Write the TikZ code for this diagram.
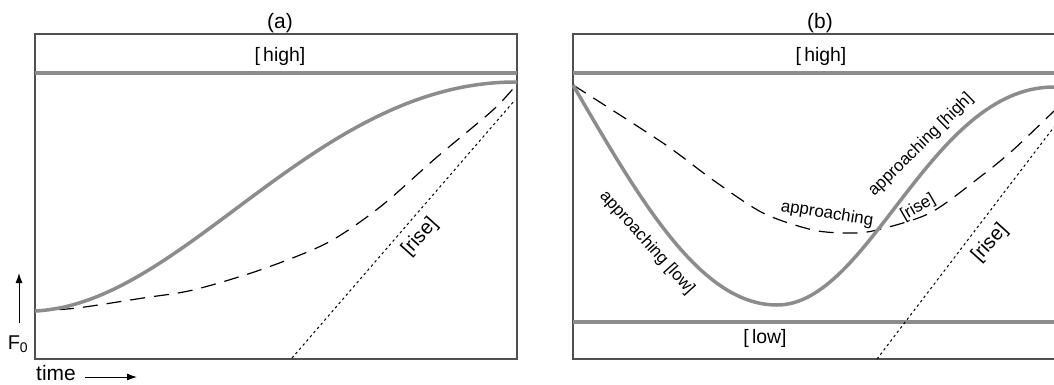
\documentclass[tikz,border=0pt]{standalone}
\usepackage{fontspec}
\setmainfont{Liberation Sans}
\usetikzlibrary{arrows.meta, positioning, calc}
\definecolor{cline}{HTML}{8C8C8C}
\definecolor{cframe}{HTML}{505050}
\tikzset{
  every picture/.style={font=\fontsize{18}{21}\selectfont},
  frame/.style={draw=cframe, line width=1.3bp},
  level/.style={draw=cline, line width=4bp},
  contour/.style={draw=cline, line width=3.5bp},
  target/.style={draw=black, line width=1.2bp, dash pattern=on 15bp off 9bp},
  slope/.style={draw=black, line width=1bp, dash pattern=on 2.5bp off 3bp},
  panel/.style={font=\fontsize{21}{24}\selectfont},
  tone/.style={inner sep=1bp, font=\fontsize{19.5}{22}\selectfont},
  lbl/.style={inner sep=1bp, font=\fontsize{17}{20}\selectfont},
  axis/.style={-{Latex[length=10bp, width=7bp]}, line width=1bp},
}

\begin{document}
\begin{tikzpicture}[x=1bp, y=-1bp]
  \useasboundingbox (0,0) rectangle (1054,384);
  % panel (a): rise towards [high]
  \draw[frame] (35,34) rectangle (517,359);
  \draw[level] (35,73) -- (517,73);
  \node[panel] (titlea) at (280,23) {(a)};
  \node[tone] (higha) at (280,56) {[\,high]};
  \draw[slope] (292,358) -- (515,100);
  \draw[target] plot[smooth] coordinates {(35,311) (77,308) (143,298) (193,290) (260,270) (327,243) (380,207) (437,157) (493,110) (517,84)};
  \draw[contour] (35,311) .. controls (185,304) and (315,81) .. (517,82);
  \node[lbl, rotate=48, font=\fontsize{20}{23}\selectfont] (risea) at (420,237) {[rise]};
  % axes
  \coordinate (ylo) at (19,323);
  \coordinate (yhi) at (19,273);
  \draw[axis] (ylo) -- (yhi);
  \node[font=\fontsize{20}{22}\selectfont, inner sep=0pt] (fzero) at (18,344) {F\textsubscript{0}};
  \node[font=\fontsize{21}{24}\selectfont, inner sep=0pt] (time) at (56,373) {time};
  \coordinate (tend) at (137,377);
  \draw[axis] (85,377) -- (tend);
  % panel (b): fall to [low], then rise to [high]
  \draw[frame] (1056,34) -- (573,34) -- (573,359) -- (1056,359);
  \draw[level] (573,73) -- (1054,73);
  \draw[level] (573,322) -- (1054,322);
  \node[panel] (titleb) at (820,23) {(b)};
  \node[tone] (highb) at (821,56) {[\,high]};
  \node[tone] (lowb) at (765,338) {[\,low]};
  \draw[slope] (877,359) -- (1054,127);
  \draw[target] plot[smooth] coordinates {(573,85) (663,143) (713,180) (763,213) (813,230) (850,233) (877,230) (930,213) (980,177) (1013,150) (1054,111)};
  \draw[contour] (573,85) .. controls (640,200) and (700,305) .. (777,305)
                 .. controls (870,305) and (930,87) .. (1054,87);
  \node[lbl, rotate=-48] (applow) at (647,243) {approaching [low]};
  \node[lbl, rotate=-9] (app) at (827,214) {approaching};
  \node[lbl, rotate=44.5] (apphigh) at (921,145) {approaching [high]};
  \node[lbl, rotate=30] (riseb) at (918,208) {[rise]};
  \node[lbl, rotate=48, font=\fontsize{20}{23}\selectfont] (risec) at (990,243) {[rise]};
\end{tikzpicture}
\end{document}
